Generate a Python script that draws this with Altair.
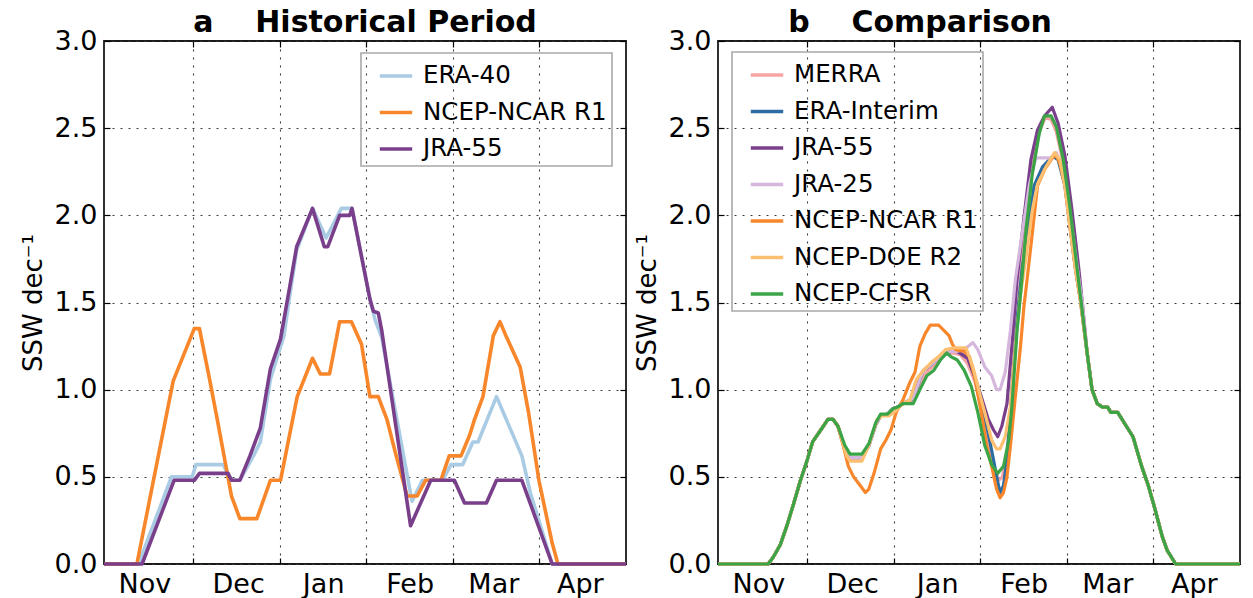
import altair as alt
import pandas as pd

FONT = "DejaVu Sans"

# Axis layout (days counted from the start of November)
MONTH_NAMES = ["Nov", "Dec", "Jan", "Feb", "Mar", "Apr"]
MONTH_LABEL_DAYS = [13, 45.5, 75, 105, 134, 164]
MONTH_EDGE_DAYS = [30, 60, 90, 120, 150]
Y_TICKS = [0.0, 0.5, 1.0, 1.5, 2.0, 2.5, 3.0]

# ---- Panel a: historical period ----
HIST_SERIES = ["ERA-40", "NCEP-NCAR R1", "JRA-55"]
HIST_COLORS = ["#aacbe4", "#f8862a", "#7a3f8b"]

ERA40_DAYS = [-1, 11.0, 22.4, 29.6, 30.9, 40.3, 43.2, 46.1, 50.8, 53.2, 56.7, 61.4, 63.5, 65.8,
              71.3, 76.0, 81.3, 83.6, 85.0, 91.2, 93.0, 95.3, 105.8, 109.4, 116.4, 119.3, 123.4,
              126.9, 128.7, 135.1, 143.9, 146.8, 154.4, 180]
ERA40_SSW = [0, 0, 0.50, 0.50, 0.57, 0.57, 0.48, 0.48, 0.62, 0.70, 1.06, 1.31, 1.55, 1.80,
             2.04, 1.87, 2.04, 2.04, 2.04, 1.52, 1.40, 1.30, 0.36, 0.48, 0.48, 0.57, 0.57,
             0.70, 0.70, 0.96, 0.62, 0.41, 0, 0]

R1_HIST_DAYS = [-1, 10.4, 23.0, 30.3, 32.1, 35.6, 38.5, 43.2, 46.1, 52.0, 56.7, 60.2, 66.0, 71.3,
                74.0, 77.2, 80.7, 84.8, 88.3, 91.2, 94.1, 97.1, 100.0, 104.1, 107.6, 110.5, 115.8,
                118.7, 122.8, 125.8, 127.5, 130.4, 134.0, 136.3, 138.6, 143.3, 146.2, 149.8, 154.4,
                156.4, 180]
R1_HIST_SSW = [0, 0, 1.05, 1.35, 1.35, 1.06, 0.81, 0.39, 0.26, 0.26, 0.48, 0.48, 0.96, 1.18,
               1.09, 1.09, 1.39, 1.39, 1.26, 0.96, 0.96, 0.83, 0.64, 0.39, 0.39, 0.48, 0.48,
               0.62, 0.62, 0.74, 0.83, 0.96, 1.31, 1.39, 1.30, 1.13, 0.87, 0.48, 0.12,
               0, 0]

JRA55_HIST_DAYS = [-1, 12.2, 23.3, 30.3, 32.1, 42.0, 43.2, 46.1, 49.6, 53.2, 56.7, 60.2, 63.3, 65.8,
                   71.3, 75.4, 76.6, 80.7, 84.2, 85.0, 91.2, 92.4, 94.1, 95.3, 105.3, 112.3, 120.5,
                   124.0, 131.6, 135.1, 143.9, 154.4, 180]
JRA55_HIST_SSW = [0, 0, 0.48, 0.48, 0.52, 0.52, 0.48, 0.48, 0.62, 0.78, 1.12, 1.29, 1.58, 1.82,
                  2.04, 1.82, 1.82, 2.00, 2.00, 2.04, 1.52, 1.45, 1.44, 1.34, 0.22, 0.48, 0.48,
                  0.35, 0.35, 0.48, 0.48, 0, 0]

# ---- Panel b: comparison of reanalyses ----
COMP_SERIES = ["MERRA", "ERA-Interim", "JRA-55", "JRA-25", "NCEP-NCAR R1", "NCEP-DOE R2", "NCEP-CFSR"]
COMP_COLORS = ["#f7a3a3", "#2b6ca3", "#7a3f8b", "#d5b6dc", "#f8862a", "#fdbf70", "#3ba447"]

# stretches where all reanalyses coincide
EARLY_DAYS = [-1, 16.4, 18.2, 20.6, 22.9, 25.3, 27.6, 30.0, 31.8, 34.7, 37.1, 38.9, 40.6]
EARLY_SSW = [0, 0, 0.04, 0.11, 0.22, 0.35, 0.48, 0.60, 0.70, 0.77, 0.83, 0.83, 0.79]
LATE_DAYS = [127.0, 128.7, 130.5, 132.3, 134.1, 135.2, 137.6, 140.6, 142.9, 145.9, 148.2, 150.6,
             153.0, 154.7, 157.7, 180]
LATE_SSW = [1.21, 1.00, 0.92, 0.90, 0.90, 0.87, 0.87, 0.79, 0.73, 0.56, 0.45, 0.31,
            0.16, 0.08, 0, 0]

MERRA_DAYS = [43.0, 44.8, 48.9, 51.3, 53.7, 55.4, 57.8, 59.6, 61.3, 63.1, 66.7, 69.0, 71.4, 73.8,
              76.1, 78.3, 80.5, 83.0, 85.5, 88.0, 90.3, 92.5, 94.5, 96.3, 97.6, 99.2, 100.9, 102.7,
              104.5, 106.3, 108.3, 110.4, 112.5, 114.5, 116.3, 118.7, 121.0, 123.4, 124.8]
MERRA_SSW = [0.66, 0.61, 0.61, 0.68, 0.80, 0.85, 0.86, 0.89, 0.90, 0.92, 0.94, 1.03, 1.10, 1.14,
             1.18, 1.21, 1.21, 1.20, 1.15, 1.05, 0.90, 0.72, 0.56, 0.48, 0.50, 0.62, 0.93, 1.40,
             1.75, 2.05, 2.30, 2.48, 2.56, 2.55, 2.48, 2.30, 2.03, 1.70, 1.52]

ERAI_DAYS = [43.0, 44.8, 48.9, 51.3, 53.7, 55.4, 57.8, 59.6, 61.3, 63.1, 66.7, 69.0, 70.2, 72.6,
             76.1, 79.7, 82.0, 85.6, 87.9, 90.3, 92.7, 94.5, 96.0, 96.8, 98.0, 99.2, 100.9, 102.7,
             104.5, 106.3, 108.6, 111.6, 115.1, 116.9, 119.3, 121.0, 122.8, 124.6]
ERAI_SSW = [0.66, 0.61, 0.61, 0.68, 0.80, 0.85, 0.86, 0.89, 0.90, 0.92, 0.95, 1.06, 1.11, 1.14,
            1.19, 1.22, 1.22, 1.18, 1.08, 0.93, 0.75, 0.60, 0.47, 0.41, 0.45, 0.60, 1.00, 1.40,
            1.70, 1.88, 2.17, 2.28, 2.34, 2.32, 2.17, 1.94, 1.71, 1.52]

JRA55_DAYS = [43.0, 44.8, 48.9, 51.3, 53.7, 55.4, 57.8, 59.6, 61.3, 63.1, 66.7, 69.0, 70.2, 72.6,
              76.1, 79.7, 82.0, 85.6, 87.9, 90.3, 92.7, 94.5, 96.0, 97.4, 99.2, 100.9, 102.7, 105.1,
              107.5, 109.8, 112.2, 114.9, 116.9, 119.3, 121.6, 124.0, 125.2]
JRA55_SSW = [0.66, 0.61, 0.61, 0.68, 0.80, 0.85, 0.86, 0.89, 0.90, 0.92, 0.95, 1.06, 1.11, 1.14,
             1.19, 1.22, 1.22, 1.18, 1.08, 0.96, 0.83, 0.77, 0.73, 0.79, 0.92, 1.25, 1.63, 1.99,
             2.32, 2.49, 2.57, 2.62, 2.53, 2.34, 2.05, 1.71, 1.52]

JRA25_DAYS = [43.0, 44.8, 48.9, 51.3, 53.7, 55.4, 57.8, 59.6, 61.3, 63.1, 66.7, 69.0, 70.2, 72.6,
              76.1, 79.7, 82.0, 84.4, 87.4, 89.1, 91.5, 93.9, 95.6, 96.8, 98.6, 100.4, 102.1, 104.5,
              106.9, 109.2, 114.5, 116.3, 118.1, 119.9, 121.6, 124.0, 125.2]
JRA25_SSW = [0.66, 0.61, 0.61, 0.68, 0.80, 0.85, 0.86, 0.89, 0.90, 0.92, 0.95, 1.06, 1.11, 1.14,
             1.19, 1.22, 1.22, 1.23, 1.27, 1.23, 1.13, 1.08, 1.00, 1.00, 1.10, 1.34, 1.63, 1.90,
             2.17, 2.33, 2.33, 2.36, 2.28, 2.15, 1.95, 1.65, 1.52]

R1_DAYS = [42.4, 44.2, 46.0, 48.3, 50.1, 51.3, 53.1, 55.4, 57.2, 59.0, 60.8, 63.1, 65.5, 67.3,
           69.0, 70.8, 72.6, 75.5, 77.3, 79.1, 80.3, 81.4, 84.4, 86.2, 87.9, 90.3, 92.1, 93.9,
           95.6, 96.8, 98.0, 99.2, 100.4, 102.1, 103.9, 105.1, 106.3, 108.0, 109.8, 112.2, 114.5,
           116.1, 117.5, 119.3, 121.0, 122.8, 124.6]
R1_SSW = [0.68, 0.56, 0.50, 0.45, 0.41, 0.43, 0.52, 0.66, 0.71, 0.77, 0.87, 0.94, 1.04, 1.10,
          1.25, 1.32, 1.37, 1.37, 1.34, 1.31, 1.26, 1.23, 1.22, 1.19, 1.08, 0.87, 0.68, 0.56,
          0.43, 0.38, 0.41, 0.50, 0.68, 0.96, 1.25, 1.48, 1.65, 1.90, 2.17, 2.26, 2.32,
          2.35, 2.30, 2.17, 1.94, 1.71, 1.52]

DOE_DAYS = [43.6, 44.8, 48.9, 51.3, 54.2, 56.0, 58.4, 60.8, 63.1, 65.5, 67.8, 70.2, 73.2, 75.5,
            77.9, 80.8, 85.0, 87.4, 89.7, 92.1, 93.9, 95.6, 96.8, 98.6, 100.4, 102.1, 103.9, 105.7,
            108.0, 109.8, 112.8, 115.7, 117.5, 119.3, 121.0, 122.8, 124.6]
DOE_SSW = [0.62, 0.59, 0.59, 0.68, 0.83, 0.85, 0.85, 0.88, 0.92, 0.94, 1.06, 1.11, 1.16, 1.19,
           1.23, 1.24, 1.24, 1.13, 0.98, 0.83, 0.71, 0.66, 0.66, 0.73, 0.90, 1.25, 1.55, 1.75,
           2.03, 2.18, 2.28, 2.36, 2.32, 2.17, 1.94, 1.71, 1.52]

CFSR_DAYS = [43.0, 44.8, 48.9, 51.3, 53.7, 55.4, 57.8, 59.6, 61.3, 63.1, 66.7, 69.0, 71.4, 73.8,
             76.1, 78.3, 79.7, 82.0, 84.4, 86.8, 89.1, 91.5, 93.9, 96.0, 98.0, 99.8, 100.9, 102.7,
             104.2, 105.7, 108.0, 110.4, 112.2, 114.5, 116.3, 118.7, 121.0, 123.4, 124.8]
CFSR_SSW = [0.68, 0.63, 0.63, 0.69, 0.81, 0.86, 0.86, 0.89, 0.90, 0.92, 0.92, 1.00, 1.08, 1.11,
            1.17, 1.21, 1.19, 1.17, 1.11, 1.02, 0.87, 0.68, 0.57, 0.52, 0.56, 0.71, 0.90, 1.34,
            1.60, 1.90, 2.24, 2.47, 2.57, 2.57, 2.51, 2.32, 2.05, 1.71, 1.52]


def rows(name, days, values):
    return [{"series": name, "day": d, "ssw": v} for d, v in zip(days, values)]


hist_rows = (rows("ERA-40", ERA40_DAYS, ERA40_SSW)
             + rows("NCEP-NCAR R1", R1_HIST_DAYS, R1_HIST_SSW)
             + rows("JRA-55", JRA55_HIST_DAYS, JRA55_HIST_SSW))

comp_middle = {
    "MERRA": (MERRA_DAYS, MERRA_SSW),
    "ERA-Interim": (ERAI_DAYS, ERAI_SSW),
    "JRA-55": (JRA55_DAYS, JRA55_SSW),
    "JRA-25": (JRA25_DAYS, JRA25_SSW),
    "NCEP-NCAR R1": (R1_DAYS, R1_SSW),
    "NCEP-DOE R2": (DOE_DAYS, DOE_SSW),
    "NCEP-CFSR": (CFSR_DAYS, CFSR_SSW),
}
comp_rows = []
for name in COMP_SERIES:
    mid_days, mid_ssw = comp_middle[name]
    comp_rows += rows(name, EARLY_DAYS + mid_days + LATE_DAYS, EARLY_SSW + mid_ssw + LATE_SSW)

# month name for each label position (nearest 30-day slot)
MONTH_EXPR = "[" + ",".join("'%s'" % m for m in MONTH_NAMES) + "][round((datum.value-15)/30)]"
GRID_DASH = [2, 6]
GRID_COLOR = "#3a3a3a"
TICK_LEN = 6
PLOT_W = 522
PLOT_H = 523


def tick_axis(orient, values, offset):
    # short solid ticks pointing into the frame, no labels or line
    return alt.Axis(orient=orient, values=values, labels=False, domain=False, grid=False,
                    ticks=True, tickSize=TICK_LEN, tickWidth=1.2, tickColor="black",
                    offset=offset, title=None, minExtent=0, maxExtent=0)


def make_panel(records, series, colors, title_text, title_dx, legend_x, legend_y, line_width):
    df = pd.DataFrame(records)
    xs = alt.Scale(domain=[-1, 180], nice=False, zero=False)
    ys = alt.Scale(domain=[0, 3], nice=False)
    cs = alt.Scale(domain=series, range=colors)

    def carrier(xaxis, yaxis):
        return alt.Chart(df).mark_point(opacity=0, size=1).encode(
            x=alt.X("day:Q", scale=xs, axis=xaxis),
            y=alt.Y("ssw:Q", scale=ys, axis=yaxis),
        )

    # month names under the panel, value labels, horizontal grid and y title
    labels = carrier(
        alt.Axis(orient="bottom", values=MONTH_LABEL_DAYS, labelExpr=MONTH_EXPR, ticks=False,
                 tickSize=0, domain=False, grid=False, labelPadding=7, title=None),
        alt.Axis(orient="left", values=Y_TICKS, format=".1f", ticks=False, tickSize=0,
                 domain=False, grid=True, gridDash=GRID_DASH, gridColor=GRID_COLOR,
                 gridWidth=1.1, labelPadding=7, title="SSW dec⁻¹", titlePadding=8),
    )
    # vertical month-boundary grid and inward ticks on the left edge
    grid_x = carrier(
        alt.Axis(orient="bottom", values=MONTH_EDGE_DAYS, labels=False, ticks=False, tickSize=0,
                 domain=False, grid=True, gridDash=GRID_DASH, gridColor=GRID_COLOR,
                 gridWidth=1.1, title=None, minExtent=0, maxExtent=0),
        tick_axis("left", Y_TICKS, -TICK_LEN),
    )
    # inward ticks on the bottom and right edges
    ticks_br = carrier(
        tick_axis("bottom", MONTH_EDGE_DAYS, -TICK_LEN),
        tick_axis("right", Y_TICKS, -TICK_LEN),
    )
    # inward ticks hanging from the top edge (a bottom axis lifted to the top of the frame)
    ticks_t = carrier(
        tick_axis("bottom", MONTH_EDGE_DAYS, -PLOT_H),
        None,
    )

    legend = alt.Legend(orient="none", legendX=legend_x, legendY=legend_y, title=None)
    lines = []
    for name in series:
        sub = df[df["series"] == name]
        lines.append(
            alt.Chart(sub).mark_line(strokeWidth=line_width, strokeJoin="round").encode(
                x=alt.X("day:Q", scale=xs, axis=None),
                y=alt.Y("ssw:Q", scale=ys, axis=None),
                color=alt.Color("series:N", scale=cs, legend=legend),
            )
        )

    return alt.layer(labels, grid_x, ticks_br, ticks_t, *lines).resolve_axis(
        x="independent", y="independent"
    ).properties(
        width=PLOT_W,
        height=PLOT_H,
        title=alt.TitleParams(text=title_text, font=FONT, fontSize=30, fontWeight="bold",
                              color="black", anchor="middle", frame="group",
                              baseline="alphabetic", offset=-35, dx=title_dx),
    )


NB = "\u00a0"
panel_a = make_panel(hist_rows, HIST_SERIES, HIST_COLORS,
                     "a" + NB * 4 + "Historical Period", 0, 257, 12, 3.6)
panel_b = make_panel(comp_rows, COMP_SERIES, COMP_COLORS,
                     "b" + NB * 4 + "Comparison", -59, 14, 11, 3.2)

chart = alt.hconcat(panel_a, panel_b, spacing=92, bounds="flush").resolve_scale(
    color="independent"
).properties(
    padding={"left": 19, "top": 7, "right": 0, "bottom": 0},
).configure(
    font=FONT,
).configure_view(
    stroke="#1a1a1a", strokeWidth=1.8,
).configure_axis(
    labelFont=FONT, labelFontSize=27, labelColor="black",
    titleFont=FONT, titleFontSize=26, titleFontWeight="normal", titleColor="black",
).configure_legend(
    labelFont=FONT, labelFontSize=24.5, labelColor="black", labelLimit=400,
    symbolType="stroke", symbolSize=1050, symbolStrokeWidth=3.5,
    strokeColor="#a8a8a8", strokeWidth=1.6, padding=5, rowPadding=6.5,
    symbolOffset=12, labelOffset=9, cornerRadius=0,
)

chart.save("out.html", embed_options={"renderer": "svg", "actions": False})
